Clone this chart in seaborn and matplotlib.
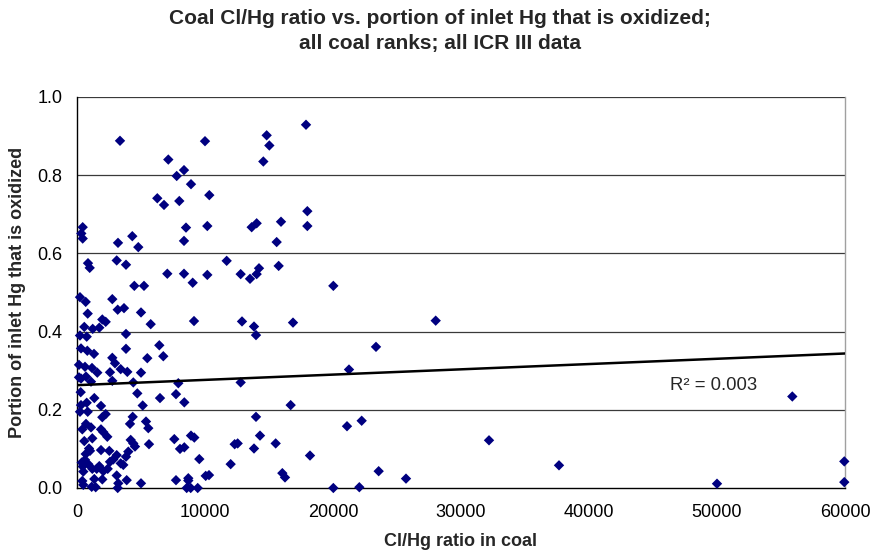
import matplotlib
matplotlib.use("Agg")
import matplotlib.pyplot as plt
import seaborn as sns
import numpy as np
import pandas as pd

title_lines = ["Coal Cl/Hg ratio vs. portion of inlet Hg that is oxidized;",
               "all coal ranks; all ICR III data"]
x_label = "Cl/Hg ratio in coal"
y_label = "Portion of inlet Hg that is oxidized"
r2_label = "R\u00b2 = 0.003"
x_ticks = [0, 10000, 20000, 30000, 40000, 50000, 60000]
y_ticks = [0.0, 0.2, 0.4, 0.6, 0.8, 1.0]

cl_hg_ratio = [
    3359, 10000, 7133, 8359, 7789, 8906, 6273, 6797, 7992, 10336,
    445, 336, 445, 8516, 10180, 8359, 3203, 4320, 4789, 859,
    992, 3102, 3828, 7055, 8359, 9039, 10180, 4477, 5234,
    234, 680, 2758, 3180, 3672, 836, 5000, 1977, 2242, 5758,
    9141, 570, 1227, 1742, 234, 758, 3828, 313, 805, 1328,
    3828, 6430, 6742, 5492, 2758, 2969, 156, 625, 1172, 3414,
    3930, 2578, 5000, 156, 703, 1586, 1094, 313, 2758, 4398,
    7914, 289, 1352, 4711, 6484, 7734, 8383, 5133, 313, 758,
    1875, 234, 836, 2242, 1977, 4352, 4141, 5391, 5570, 703,
    1094, 414, 1875, 2055, 8906, 9164, 2367, 1195, 570, 4195,
    4398, 4531, 5625, 7602, 8383, 8047, 938, 1016, 1875, 2523,
    4008, 680, 3102, 3828, 625, 2836, 2578, 3414, 3617, 9555,
    367, 883, 1742, 445, 1195, 1539, 2398, 2055, 492, 3102,
    10055, 10313, 1352, 1977, 414, 3883, 5000, 7734, 8695, 8695,
    3227, 1148, 1461, 3180, 8570, 8883, 9430, 492,
    14818, 15026, 14557, 17891, 13646, 14036, 15938, 17995, 17995, 15599,
    11693, 12786, 14219, 14036, 13516, 15755, 20026,
    12891, 13828, 13984, 16875, 21250, 12786, 16693, 13984, 21094, 14297,
    12318, 12552, 13828, 15521, 18203, 12005, 16042, 16250, 20026,
    28023, 23359, 22240, 32188, 23568, 25703, 22057,
    37656, 50000, 55883, 59945, 59945,
]
oxidized_fraction = [
    0.888, 0.887, 0.840, 0.813, 0.798, 0.777, 0.741, 0.724, 0.734, 0.749,
    0.667, 0.651, 0.638, 0.666, 0.670, 0.632, 0.627, 0.644, 0.616, 0.575,
    0.563, 0.582, 0.571, 0.548, 0.548, 0.525, 0.545, 0.517, 0.517,
    0.488, 0.476, 0.483, 0.456, 0.460, 0.446, 0.449, 0.431, 0.425, 0.419,
    0.427, 0.412, 0.407, 0.410, 0.390, 0.387, 0.394, 0.357, 0.351, 0.343,
    0.356, 0.365, 0.337, 0.332, 0.333, 0.319, 0.315, 0.310, 0.307, 0.304,
    0.297, 0.296, 0.295, 0.283, 0.285, 0.295, 0.272, 0.280, 0.274, 0.270,
    0.268, 0.245, 0.230, 0.242, 0.230, 0.240, 0.219, 0.211, 0.212, 0.218,
    0.210, 0.195, 0.195, 0.189, 0.181, 0.182, 0.164, 0.170, 0.153, 0.164,
    0.155, 0.150, 0.150, 0.143, 0.134, 0.129, 0.131, 0.127, 0.120, 0.123,
    0.114, 0.106, 0.112, 0.125, 0.104, 0.100, 0.101, 0.095, 0.097, 0.095,
    0.093, 0.087, 0.084, 0.080, 0.072, 0.073, 0.067, 0.063, 0.059, 0.074,
    0.065, 0.061, 0.056, 0.055, 0.049, 0.049, 0.049, 0.043, 0.042, 0.032,
    0.031, 0.033, 0.023, 0.022, 0.018, 0.020, 0.012, 0.020, 0.025, 0.019,
    0.012, 0.003, 0.002, 0.000, 0.000, 0.000, 0.000, 0.008,
    0.902, 0.876, 0.835, 0.929, 0.667, 0.677, 0.681, 0.708, 0.670, 0.629,
    0.581, 0.547, 0.562, 0.547, 0.535, 0.568, 0.517,
    0.426, 0.413, 0.391, 0.423, 0.303, 0.270, 0.212, 0.182, 0.158, 0.134,
    0.112, 0.114, 0.101, 0.114, 0.083, 0.061, 0.038, 0.027, 0.000,
    0.428, 0.361, 0.172, 0.122, 0.043, 0.024, 0.002,
    0.058, 0.011, 0.234, 0.068, 0.015,
]

# Linear trendline as shown on the chart
trend_ratio = [0, 60000]
trend_oxidized = [0.263, 0.344]

df = pd.DataFrame({"ratio": cl_hg_ratio, "oxidized": oxidized_fraction})
trend_df = pd.DataFrame({"ratio": trend_ratio, "oxidized": trend_oxidized})

sns.set_style("white")
plt.rcParams["font.family"] = ["Liberation Sans", "DejaVu Sans"]

W, H = 875, 554
fig = plt.figure(figsize=(W / 100, H / 100), dpi=100)
ax = fig.add_axes([77 / W, 1 - 488 / H, 768 / W, 391 / H])

ax.set_xlim(0, 60000)
ax.set_ylim(0, 1.0)

for yv in y_ticks[1:]:
    ax.axhline(yv, color="#3a3a3a", lw=0.9, zorder=0)

sns.scatterplot(data=df, x="ratio", y="oxidized", marker="D", s=28,
                color="#000080", edgecolor="none", linewidth=0,
                ax=ax, legend=False, clip_on=False, zorder=3)
sns.lineplot(data=trend_df, x="ratio", y="oxidized", color="black", lw=1.8,
             ax=ax, zorder=4)

ax.set_xlim(0, 60000)
ax.set_ylim(0, 1.0)
ax.set_xticks(x_ticks)
ax.set_xticklabels([str(v) for v in x_ticks])
ax.set_yticks(y_ticks)
ax.set_yticklabels([f"{v:.1f}" for v in y_ticks])
ax.tick_params(axis="both", direction="out", length=4.5, width=0.9,
               colors="black", labelsize=13)
ax.tick_params(axis="x", pad=7)
ax.tick_params(axis="y", pad=6)

for side in ["left", "bottom"]:
    ax.spines[side].set_color("black")
    ax.spines[side].set_linewidth(1.0)
ax.spines["top"].set_visible(False)
ax.spines["right"].set_color("#a0a0a0")
ax.spines["right"].set_linewidth(1.0)

ax.set_xlabel("")
ax.set_ylabel("")
fig.text(461 / W, 1 - 541 / H, x_label, ha="center", va="center",
         fontsize=13, fontweight="bold")
fig.text(18 / W, 1 - 292 / H, y_label, ha="center", va="center",
         rotation=90, fontsize=13, fontweight="bold")

ax.text(46300, 0.263, r2_label, fontsize=13.3, va="center", ha="left")

fig.text(440 / W, 1 - 18 / H, title_lines[0], ha="center", va="center",
         fontsize=15, fontweight="bold")
fig.text(440 / W, 1 - 44 / H, title_lines[1], ha="center", va="center",
         fontsize=15, fontweight="bold")

fig.savefig("out.png", dpi=100)
